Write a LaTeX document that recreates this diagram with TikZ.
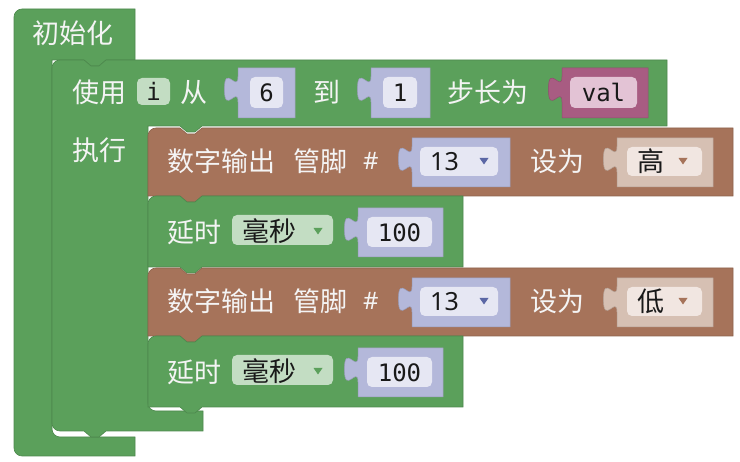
\documentclass[tikz,border=0pt]{standalone}
\usepackage{fontspec}
\newfontfamily\blockfont{Noto Sans CJK SC}
\newfontfamily\fieldmono{DejaVu Sans Mono}
\newfontfamily\fieldsans{Noto Sans}
\definecolor{BlockGreen}{HTML}{5BA05B}
\definecolor{BlockBrown}{HTML}{A6735A}
\definecolor{ShadowBlue}{HTML}{B4B8DA}
\definecolor{ShadowBlueLight}{HTML}{E6E7F3}
\definecolor{BlockPlum}{HTML}{A85C82}
\definecolor{BlockPlumLight}{HTML}{E3C3D5}
\definecolor{ShadowTan}{HTML}{D6C0B3}
\definecolor{ShadowTanLight}{HTML}{F1E6E1}
\definecolor{FieldGreen}{HTML}{C3DDC3}
\definecolor{ArrowBlue}{HTML}{5B67A5}
\definecolor{LabelWhite}{HTML}{F4F4F4}

\tikzset{
  lbl/.style={anchor=west, inner sep=0pt, text=LabelWhite, font=\blockfont\fontsize{27}{27}\selectfont},
  fld/.style={inner sep=0pt, text=black!90, font=\fieldmono\fontsize{24}{24}\selectfont},
  fldcjk/.style={anchor=west, inner sep=0pt, text=black!90, font=\blockfont\fontsize{27}{27}\selectfont},
  fldbox/.style={rounded corners=5pt},
}

% statement block: colour, left, top, right, bottom
\newcommand{\stmtblock}[5]{%
  \filldraw[fill=#1, draw=#1!85!black, line width=0.6pt]
    (#2,#3+8) arc[start angle=180, end angle=270, radius=8]
    -- (#2+32,#3) -- ++(7,6) -- ++(8,0) -- ++(7,-6)
    -- (#4,#3) -- (#4,#5) -- (#2+54,#5) -- ++(-7,6) -- ++(-8,0) -- ++(-7,-6)
    -- (#2,#5) -- cycle;}

% value block with its left tab: colour, left, top, right, bottom
\newcommand{\valblock}[5]{%
  \filldraw[fill=#1, draw=#1!85!black, line width=0.5pt]
    (#2,#3) -- (#4,#3) -- (#4,#5) -- (#2,#5) -- (#2,#3+34)
    .. controls (#2,#3+17) and (#2-13.6,#3+47.6) .. (#2-13.6,#3+21.25)
    .. controls (#2-13.6,#3-5.1) and (#2,#3+25.5) .. (#2,#3+8.5) -- cycle;}

% dropdown triangle: colour, centre x, centre y
\newcommand{\dropmark}[3]{%
  \fill[#1] (#2-4.5,#3-3) -- (#2+4.5,#3-3) -- (#2,#3+3.5) -- cycle;}

\begin{document}
\begin{tikzpicture}[x=1pt, y=-1pt]
    \useasboundingbox (0,0) rectangle (740,462);

    % ========== OUTER: setup block ==========
    \filldraw[fill=BlockGreen, draw=BlockGreen!85!black, line width=0.6pt]
        (14,17) arc[start angle=180, end angle=270, radius=8]
        -- (135,9) -- (135,60) -- (106,60) -- ++(-7,6) -- ++(-8,0) -- ++(-7,-6)
        -- (52,60) -- (52,429) arc[start angle=180, end angle=90, radius=8]
        -- (135,437) -- (135,456) -- (22,456) arc[start angle=90, end angle=180, radius=8]
        -- cycle;
    \node[lbl] (setupLbl) at (32,33) {初始化};

    % ========== LOOP: for block ==========
    \filldraw[fill=BlockGreen, draw=BlockGreen!85!black, line width=0.6pt]
        (52,68) arc[start angle=180, end angle=270, radius=8]
        -- (84,60) -- ++(7,6) -- ++(8,0) -- ++(7,-6)
        -- (667,60) -- (667,126) -- (202,126) -- ++(-7,6) -- ++(-8,0) -- ++(-7,-6)
        -- (148,126) -- (148,403) arc[start angle=180, end angle=90, radius=8]
        -- (203,411) -- (203,431) -- (106,431) -- ++(-7,6) -- ++(-8,0) -- ++(-7,-6)
        -- (60,431) arc[start angle=90, end angle=180, radius=8] -- cycle;

    \node[lbl] (useLbl) at (72,92) {使用};
    \fill[FieldGreen, fldbox] (137,78) rectangle (170,105);
    \node[fld] (varI) at (153.5,91.5) {i};
    \node[lbl] (fromLbl) at (180,92) {从};
    \valblock{ShadowBlue}{238}{68}{295}{118}
    \fill[ShadowBlueLight, fldbox] (250,77) rectangle (283,108);
    \node[fld] (fromVal) at (266.5,92.5) {6};
    \node[lbl] (toLbl) at (313,92) {到};
    \valblock{ShadowBlue}{371}{68}{430}{118}
    \fill[ShadowBlueLight, fldbox] (383,77) rectangle (417,108);
    \node[fld] (toVal) at (400,92.5) {1};
    \node[lbl] (stepLbl) at (447,92) {步长为};
    \valblock{BlockPlum}{562}{68}{648}{118}
    \fill[BlockPlumLight, fldbox] (570,77) rectangle (637,108);
    \node[fld] (stepVal) at (603.5,92.5) {val};
    \node[lbl] (doLbl) at (72,150) {执行};

    % ========== BODY: write / delay pairs ==========
    \foreach \dy/\lvl in {0/高, 140/低} {
        % digital write
        \stmtblock{BlockBrown}{148}{128+\dy}{733}{196+\dy}
        \node[lbl] (writeLbl\dy) at (167,161+\dy) {数字输出};
        \node[lbl] (pinLbl\dy) at (293,161+\dy) {管脚};
        \node[lbl, font=\fieldsans\fontsize{24}{24}\selectfont] (hashLbl\dy) at (363,161+\dy) {\#};
        \valblock{ShadowBlue}{412}{138+\dy}{510}{187+\dy}
        \fill[ShadowBlueLight, fldbox] (420,147+\dy) rectangle (498,176+\dy);
        \node[fld, anchor=west, font=\fieldsans\fontsize{25}{25}\selectfont] (pinVal\dy) at (430,161.5+\dy) {13};
        \dropmark{ArrowBlue}{484}{161+\dy}
        \node[lbl] (setLbl\dy) at (530,161+\dy) {设为};
        \valblock{ShadowTan}{617}{138+\dy}{713}{187+\dy}
        \fill[ShadowTanLight, fldbox] (627,147+\dy) rectangle (702,176+\dy);
        \node[fldcjk] (levelVal\dy) at (637,161+\dy) {\lvl};
        \dropmark{BlockBrown}{683}{161+\dy}

        % delay
        \stmtblock{BlockGreen}{148}{196+\dy}{463}{267+\dy}
        \node[lbl] (delayLbl\dy) at (167,232+\dy) {延时};
        \fill[FieldGreen, fldbox] (232,215+\dy) rectangle (333,245+\dy);
        \node[fldcjk] (unitVal\dy) at (242,231+\dy) {毫秒};
        \dropmark{BlockGreen}{318}{231+\dy}
        \valblock{ShadowBlue}{358}{208+\dy}{443}{257+\dy}
        \fill[ShadowBlueLight, fldbox] (367,217+\dy) rectangle (432,247+\dy);
        \node[fld] (msVal\dy) at (399.5,232.5+\dy) {100};
    }

\end{tikzpicture}
\end{document}
